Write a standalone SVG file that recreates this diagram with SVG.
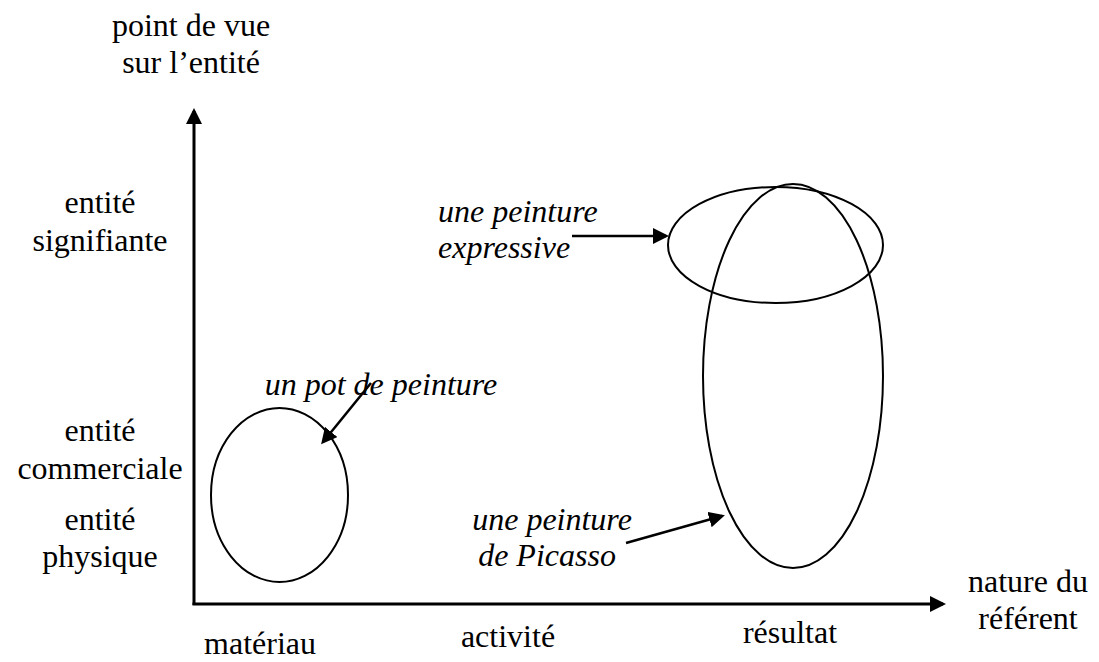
<svg xmlns="http://www.w3.org/2000/svg" width="1099" height="662" viewBox="0 0 1099 662">
<style>
text{font-family:"Liberation Serif","Times New Roman","DejaVu Serif",serif;font-size:32px;fill:#000;text-anchor:middle}
.it{font-style:italic}
.ax{stroke:#000;stroke-width:3;fill:none}
.cn{stroke:#000;stroke-width:2.5;fill:none}
.el{stroke:#000;stroke-width:2;fill:none}
</style>
<defs>
<marker id="ah" markerUnits="userSpaceOnUse" markerWidth="16" markerHeight="16" refX="13" refY="8" orient="auto" viewBox="0 0 16 16">
<path d="M0,0 L16,8 L0,16 z" fill="#000"/>
</marker>
</defs>
<g id="axes">
<line class="ax" x1="194" y1="605" x2="194" y2="111" marker-end="url(#ah)"/>
<line class="ax" x1="192.5" y1="604" x2="943" y2="604" marker-end="url(#ah)"/>
</g>
<g id="axis-labels">
<text x="191" y="36">point de vue</text>
<text x="191" y="73">sur l’entité</text>
<text x="100" y="213">entité</text>
<text x="100" y="251">signifiante</text>
<text x="100" y="441">entité</text>
<text x="100" y="479">commerciale</text>
<text x="100" y="530">entité</text>
<text x="100" y="567">physique</text>
<text x="260" y="654">matériau</text>
<text x="508" y="647">activité</text>
<text x="790" y="643">résultat</text>
<text x="1028" y="592">nature du</text>
<text x="1028" y="629">référent</text>
</g>
<g id="node-pot">
<ellipse class="el" cx="279.5" cy="495" rx="68.5" ry="87"/>
<text class="it" x="381" y="395">un pot de peinture</text>
</g>
<g id="node-expressive">
<ellipse class="el" cx="775.5" cy="245" rx="107.5" ry="58"/>
<text class="it" x="438" y="222" style="text-anchor:start">une peinture</text>
<text class="it" x="438" y="258" style="text-anchor:start">expressive</text>
</g>
<g id="node-picasso">
<ellipse class="el" cx="793" cy="376" rx="90" ry="192"/>
<text class="it" x="552" y="530">une peinture</text>
<text class="it" x="547" y="566">de Picasso</text>
</g>
<g id="connectors">
<line class="cn" x1="572" y1="236" x2="666" y2="236" marker-end="url(#ah)"/>
<line class="cn" x1="371" y1="383" x2="323" y2="442" marker-end="url(#ah)"/>
<line class="cn" x1="626" y1="543" x2="722" y2="516" marker-end="url(#ah)"/>
</g>
</svg>
